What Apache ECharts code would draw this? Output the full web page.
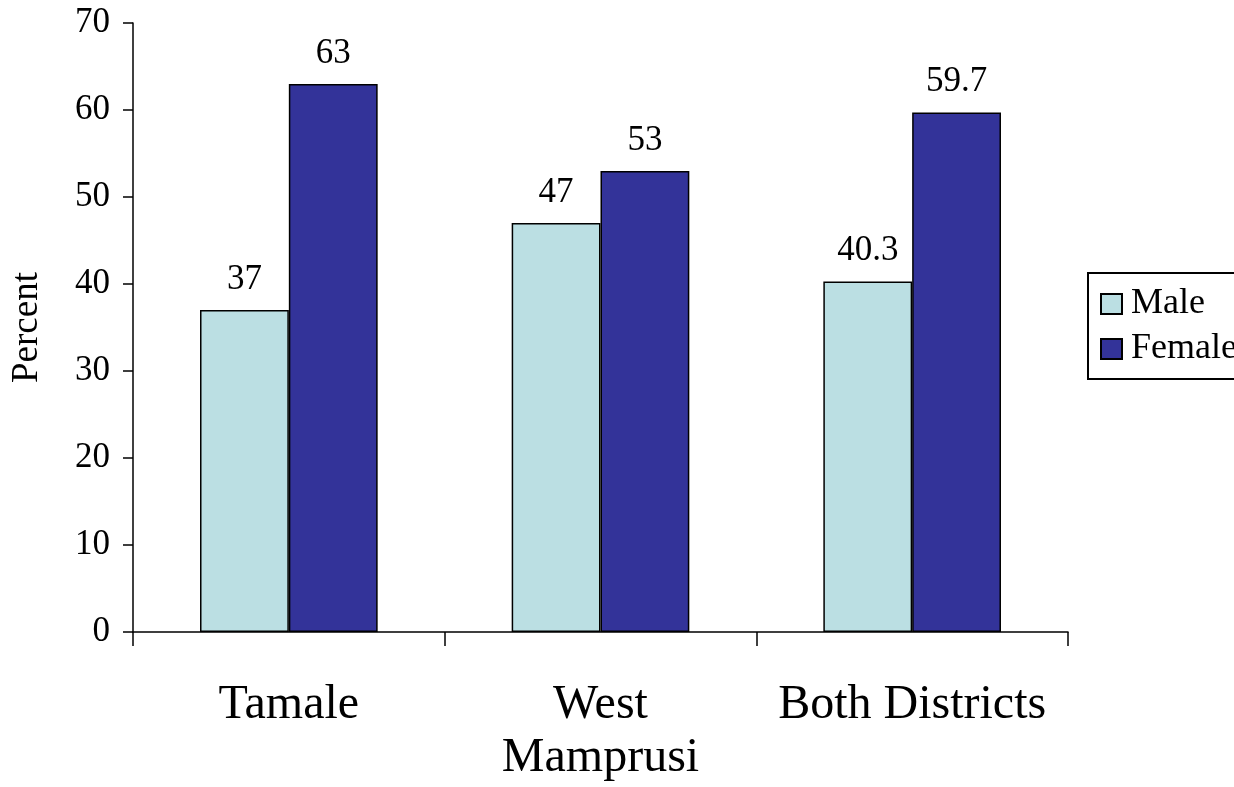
<!DOCTYPE html>
<html>
<head>
<meta charset="utf-8">
<script src="https://cdn.jsdelivr.net/npm/echarts@6/dist/echarts.min.js"></script>
<style>
  html, body { margin: 0; padding: 0; background: #fff; }
  #chart { width: 1234px; height: 787px; }
</style>
</head>
<body>
<div id="chart"></div>
<script>
// Share of respondents by sex in each district
const categories = ['Tamale', 'West\nMamprusi', 'Both Districts'];
const maleValues = [37, 47, 40.3];
const femaleValues = [63, 53, 59.7];
const seriesNames = ['Male', 'Female'];

const serif = '"Liberation Serif", "Times New Roman", serif';

const chart = echarts.init(document.getElementById('chart'));

const labelStyle = {
  show: true,
  position: 'top',
  distance: 13,
  fontFamily: serif,
  fontSize: 35,
  color: '#000'
};

chart.setOption({
  animation: false,
  backgroundColor: '#fff',
  grid: { left: 133, right: 166, top: 23, bottom: 155 },
  legend: {
    orient: 'vertical',
    left: 1088,
    top: 273,
    padding: [13, 40, 12, 12],
    itemGap: 9,
    itemWidth: 21,
    itemHeight: 20,
    borderColor: '#000',
    borderWidth: 2,
    borderRadius: 0,
    icon: 'rect',
    textStyle: { fontFamily: serif, fontSize: 36, color: '#000', padding: [0, 0, 0, 4] },
    data: seriesNames
  },
  xAxis: {
    type: 'category',
    data: categories,
    axisLine: { lineStyle: { color: '#000', width: 1.5 } },
    axisTick: { show: true, interval: 0, length: 14, lineStyle: { color: '#000', width: 1.5 } },
    axisLabel: {
      interval: 0,
      hideOverlap: false,
      fontFamily: serif,
      fontSize: 48,
      color: '#000',
      margin: 47,
      lineHeight: 53
    }
  },
  yAxis: {
    type: 'value',
    min: 0,
    max: 70,
    interval: 10,
    name: 'Percent',
    nameLocation: 'middle',
    nameRotate: 90,
    nameGap: 87,
    nameTextStyle: { fontFamily: serif, fontSize: 37, color: '#000' },
    splitLine: { show: false },
    axisLine: { show: true, lineStyle: { color: '#000', width: 1.5 } },
    axisTick: { show: true, length: 10, lineStyle: { color: '#000', width: 1.5 } },
    axisLabel: { fontFamily: serif, fontSize: 35, color: '#000', margin: 23 }
  },
  series: [
    {
      name: seriesNames[0],
      type: 'bar',
      data: maleValues,
      barGap: '0%',
      barCategoryGap: '43%',
      itemStyle: { color: '#BBDFE3', borderColor: '#000', borderWidth: 1.5 },
      label: labelStyle
    },
    {
      name: seriesNames[1],
      type: 'bar',
      data: femaleValues,
      barGap: '0%',
      barCategoryGap: '43%',
      itemStyle: { color: '#333399', borderColor: '#000', borderWidth: 1.5 },
      label: labelStyle
    }
  ]
});
</script>
</body>
</html>
